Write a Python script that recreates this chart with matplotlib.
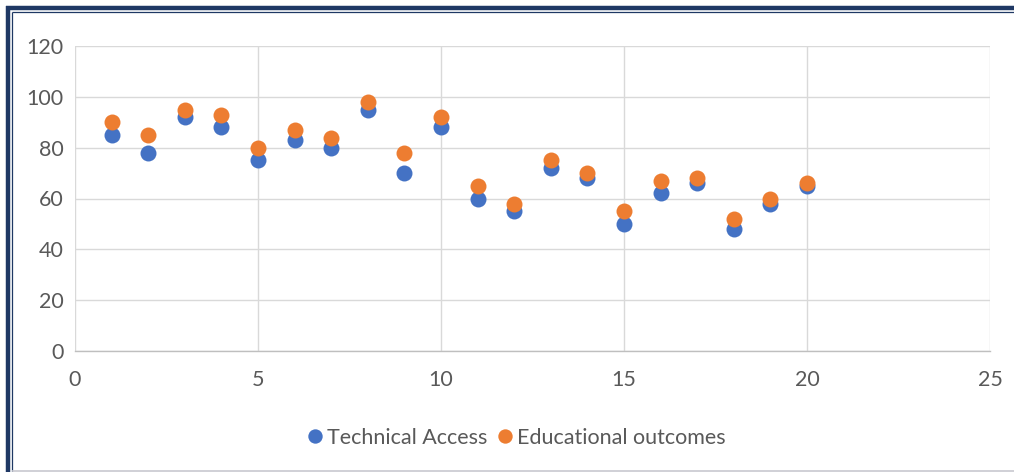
import matplotlib
matplotlib.use("Agg")
import matplotlib.pyplot as plt
from matplotlib.lines import Line2D

# data
x_vals = list(range(1, 21))
technical_access = [85, 78, 92, 88, 75, 83, 80, 95, 70, 88,
                    60, 55, 72, 68, 50, 62, 66, 48, 58, 65]
educational_outcomes = [90, 85, 95, 93, 80, 87, 84, 98, 78, 92,
                        65, 58, 75, 70, 55, 67, 68, 52, 60, 66]
x_ticks = [0, 5, 10, 15, 20, 25]
y_ticks = [0, 20, 40, 60, 80, 100, 120]

BLUE = "#4472C4"
ORANGE = "#ED7D31"
GRID = "#D9D9D9"
TEXT = "#595959"
NAVY = "#1F3864"

plt.rcParams['font.family'] = ['Lato', 'DejaVu Sans']

W, H = 1014, 472
fig = plt.figure(figsize=(W / 100, H / 100), dpi=100)
fig.patch.set_facecolor("white")

ax = fig.add_axes([75 / W, 1 - 351 / H, (990 - 75) / W, (351 - 46) / H])
ax.plot(x_vals, technical_access, 'o', color=BLUE, markersize=11.5,
        markeredgewidth=0, label="Technical Access", zorder=3)
ax.plot(x_vals, educational_outcomes, 'o', color=ORANGE, markersize=11.5,
        markeredgewidth=0, label="Educational outcomes", zorder=4)

ax.set_xlim(0, 25)
ax.set_ylim(0, 120)
ax.set_xticks(x_ticks)
ax.set_yticks(y_ticks)
ax.grid(True, color=GRID, linewidth=1.0, zorder=0)
ax.set_axisbelow(True)
for side in ["top", "right", "left"]:
    ax.spines[side].set_visible(False)
ax.spines["bottom"].set_color("#BFBFBF")
ax.spines["bottom"].set_linewidth(1.0)
ax.tick_params(axis="both", length=0, colors=TEXT, labelsize=15.5)
ax.tick_params(axis="x", pad=14)
ax.tick_params(axis="y", pad=8)

leg = fig.legend(loc="center", bbox_to_anchor=(515 / W, 1 - 438 / H),
                 ncol=2, frameon=False, fontsize=15.5, handletextpad=0.05,
                 columnspacing=0.3, handlelength=1.0, markerscale=0.9)
for t in leg.get_texts():
    t.set_color(TEXT)

# outer frame (double navy border, right side cut off)
fig.add_artist(Line2D([8 / W, 8 / W], [0, 1 - 6 / H], transform=fig.transFigure,
                      color=NAVY, linewidth=3.2, solid_capstyle="butt"))
fig.add_artist(Line2D([6 / W, 1], [1 - 8 / H, 1 - 8 / H], transform=fig.transFigure,
                      color=NAVY, linewidth=3.2, solid_capstyle="butt"))
fig.add_artist(Line2D([11.8 / W, 11.8 / W], [0, 1 - 11.8 / H], transform=fig.transFigure,
                      color=NAVY, linewidth=0.9, solid_capstyle="butt"))
fig.add_artist(Line2D([11.8 / W, 1], [1 - 11.8 / H, 1 - 11.8 / H], transform=fig.transFigure,
                      color=NAVY, linewidth=0.9, solid_capstyle="butt"))
fig.add_artist(Line2D([12 / W, 1], [1.5 / H, 1.5 / H], transform=fig.transFigure,
                      color="#C8C8D0", linewidth=1.2, solid_capstyle="butt"))

fig.savefig("out.png", dpi=100, facecolor=fig.get_facecolor())
